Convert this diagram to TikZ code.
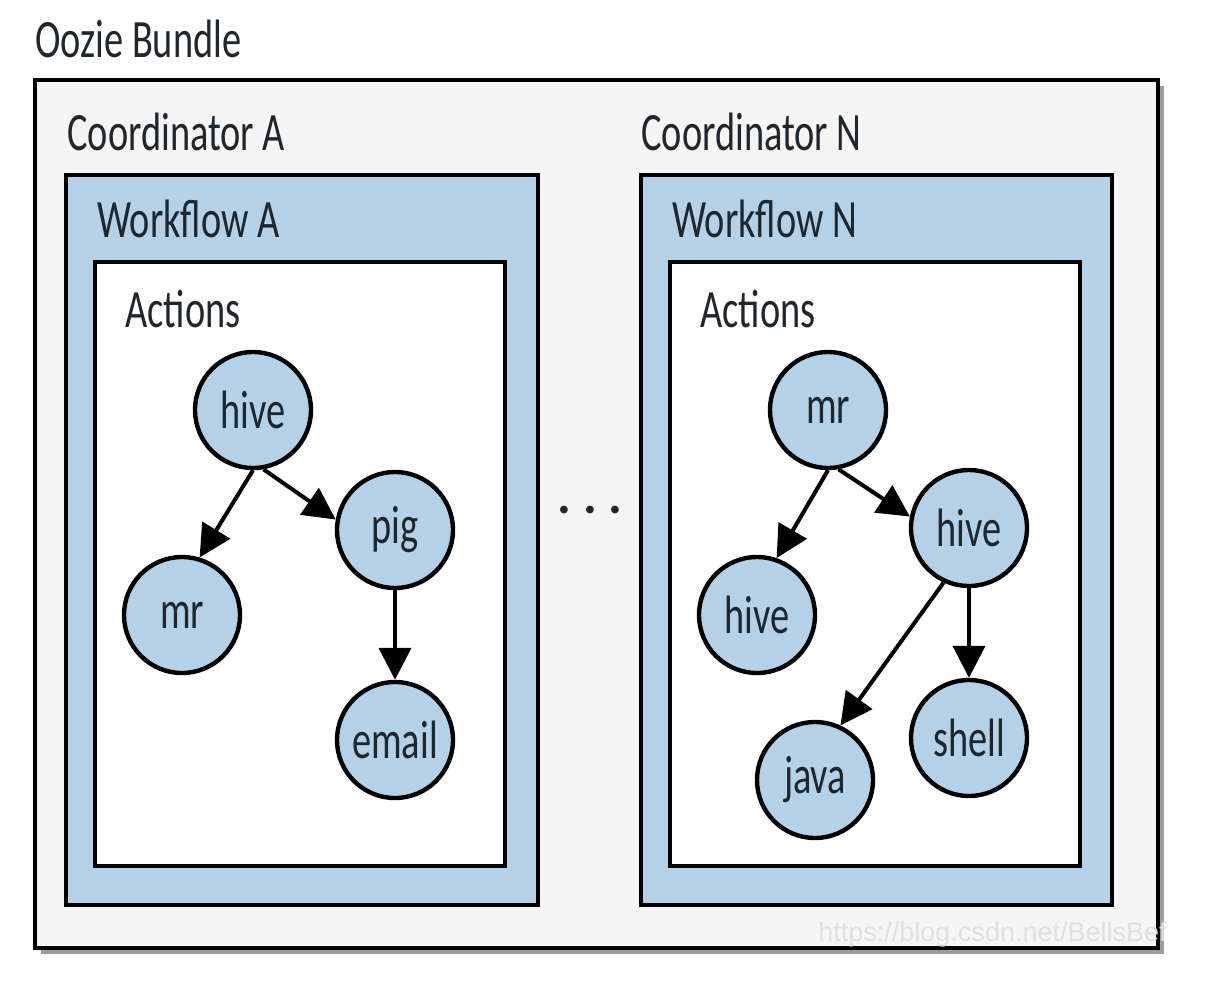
\documentclass[tikz,border=0pt]{standalone}
\usepackage{fontspec}
\setmainfont{Carlito}[FakeStretch=0.71]
\newfontfamily\markfont{Liberation Sans}
\usetikzlibrary{arrows.meta,shadows}
\definecolor{flowblue}{RGB}{181,209,231}
\definecolor{bundlegray}{RGB}{245,245,245}
\definecolor{inkdark}{RGB}{30,38,46}

\begin{document}
\begin{tikzpicture}[
  x=0.5pt,
  y=-0.5pt,
  frame line/.style={line width=2.2pt, draw=black},
  group title/.style={anchor=base west, inner sep=0pt,
    font=\fontsize{27}{30}\selectfont, text=inkdark},
  action/.style={circle, line width=2.2pt, draw=black, fill=flowblue,
    minimum size=58pt, inner sep=0pt,
    font=\fontsize{27}{30}\selectfont, text=inkdark},
  flow link/.style={line width=2pt,
    -{Triangle[length=16pt,width=16pt]}}
]
  \path[use as bounding box] (0,0) rectangle (1214,990);

  % Bundle frame with its shadow.
  \node[group title] (bundletitle) at (35,58) {Oozie Bundle};
  \filldraw[frame line, fill=bundlegray,
    drop shadow={shadow xshift=3pt, shadow yshift=-3pt,
      fill=black!55, opacity=0.7}]
    (35,80) rectangle (1158,948);

  % Coordinator A and its workflow.
  \node[group title] (coordAtitle) at (67,150) {Coordinator A};
  \filldraw[frame line, fill=flowblue] (66,175) rectangle (538,905);
  \node[group title] (wfAtitle) at (97,237) {Workflow A};
  \filldraw[frame line, fill=white] (95,262) rectangle (505,866);
  \node[group title] (actAtitle) at (125,327) {Actions};

  \node[action] (hiveA) at (253,410) {hive};
  \node[action] (mrA) at (182,615) {mr};
  \node[action] (pigA) at (395,530) {pig};
  \node[action] (emailA) at (395,740) {email};
  \draw[flow link] (hiveA.south) -- (mrA.73);
  \draw[flow link] (hiveA.-80) -- (pigA.170);
  \draw[flow link] (pigA.south) -- (emailA.north);

  % Coordinators in between.
  \node[anchor=base, inner sep=0pt, font=\boldmath\fontsize{42}{42}\selectfont,
    text=inkdark] (gapdots) at (590,522) {$\cdots$};

  % Coordinator N and its workflow.
  \node[group title] (coordNtitle) at (641,150) {Coordinator N};
  \filldraw[frame line, fill=flowblue] (641,175) rectangle (1112,905);
  \node[group title] (wfNtitle) at (672,237) {Workflow N};
  \filldraw[frame line, fill=white] (670,262) rectangle (1080,866);
  \node[group title] (actNtitle) at (700,327) {Actions};

  \node[action] (mrN) at (828,410) {mr};
  \node[action] (hiveNL) at (757,615) {hive};
  \node[action] (hiveNR) at (969,528) {hive};
  \node[action] (javaN) at (815,780) {java};
  \node[action] (shellN) at (969,738) {shell};
  \draw[flow link] (mrN.south) -- (hiveNL.71);
  \draw[flow link] (mrN.-80) -- (hiveNR.169);
  \draw[flow link] (hiveNR.-115) -- (javaN.65);
  \draw[flow link] (hiveNR.south) -- (shellN.north);

  \node[anchor=west, inner sep=0pt, font=\markfont\fontsize{13.5}{14}\selectfont,
    text=black!12] (watermark) at (818,935) {https://blog.csdn.net/BellsBef};
\end{tikzpicture}
\end{document}
